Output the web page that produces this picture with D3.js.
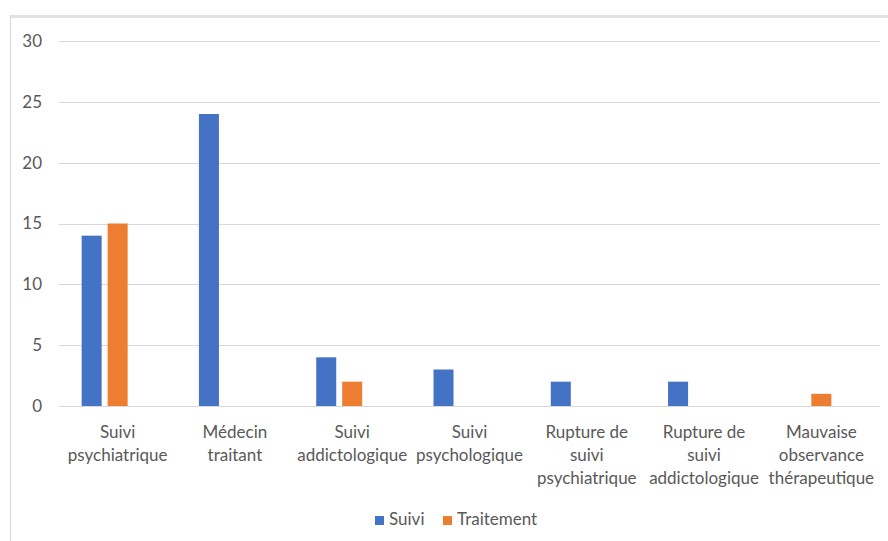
<!DOCTYPE html>
<html>
<head>
<meta charset="utf-8">
<script src="https://cdn.jsdelivr.net/npm/d3@7"></script>
<style>
  body { margin: 0; background: #fff; }
  text { font-family: Lato, "Liberation Sans", sans-serif; fill: #595959; }
</style>
</head>
<body>
<div id="chart"></div>
<script>
// categories and values
var categories = [
    ["Suivi", "psychiatrique"],
    ["Médecin", "traitant"],
    ["Suivi", "addictologique"],
    ["Suivi", "psychologique"],
    ["Rupture de", "suivi", "psychiatrique"],
    ["Rupture de", "suivi", "addictologique"],
    ["Mauvaise", "observance", "thérapeutique"]
];
var seriesNames = ["Suivi", "Traitement"];
var suiviValues = [14, 24, 4, 3, 2, 2, 0];
var traitementValues = [15, 0, 2, 0, 0, 0, 1];
var yTicks = [0, 5, 10, 15, 20, 25, 30];
var colors = ["#4472C4", "#ED7D31"];

var svgWidth = 888;
var svgHeight = 541;
var margin = { top: 41, right: 8, bottom: 135, left: 59 };
var width = svgWidth - margin.left - margin.right;
var height = svgHeight - margin.top - margin.bottom;

var svg = d3.select("#chart")
    .append("svg")
    .attr("width", svgWidth)
    .attr("height", svgHeight);

// chart area border
svg.append("line")
    .attr("x1", 10).attr("x2", svgWidth)
    .attr("y1", 16.5).attr("y2", 16.5)
    .attr("stroke", "#e2e2e2").attr("stroke-width", 3);
svg.append("line")
    .attr("x1", 10.5).attr("x2", 10.5)
    .attr("y1", 15).attr("y2", svgHeight)
    .attr("stroke", "#d9d9d9").attr("stroke-width", 1);

var g = svg.append("g")
    .attr("transform", `translate(${margin.left}, ${margin.top})`);

var data = categories.map(function(c, i) {
    return { label: c, values: [suiviValues[i], traitementValues[i]] };
});

var x0 = d3.scaleBand()
    .domain(d3.range(categories.length))
    .range([0, width])
    .paddingInner(0)
    .paddingOuter(0);

// three slots per category (Excel leaves room for an empty third series)
var groupWidth = 72;
var x1 = d3.scaleBand()
    .domain([0, 1, 2])
    .range([0, groupWidth])
    .paddingInner(0.23);

var y = d3.scaleLinear()
    .domain([0, 30])
    .range([height, 0]);

// gridlines
g.selectAll(".grid")
    .data(yTicks)
    .enter()
    .append("line")
    .attr("x1", 0)
    .attr("x2", width)
    .attr("y1", d => Math.round(y(d)) + 0.5)
    .attr("y2", d => Math.round(y(d)) + 0.5)
    .attr("stroke", "#d9d9d9")
    .attr("stroke-width", 1);

// y axis labels
var leftAxis = d3.axisLeft(y).tickValues(yTicks).tickSize(0).tickPadding(17);
var yAxis = g.append("g").call(leftAxis);
yAxis.select(".domain").remove();
yAxis.selectAll("text")
    .style("font-size", "17px")
    .attr("fill", "#595959");

// bars
var groups = g.selectAll(".cat")
    .data(data)
    .enter()
    .append("g")
    .attr("transform", (d, i) => `translate(${x0(i) + x0.bandwidth() / 2 - groupWidth / 2}, 0)`);

groups.selectAll("rect")
    .data(d => d.values.map((v, k) => ({ k: k, v: v })))
    .enter()
    .append("rect")
    .attr("x", d => x1(d.k))
    .attr("width", x1.bandwidth())
    .attr("y", d => y(d.v))
    .attr("height", d => height - y(d.v))
    .attr("fill", d => colors[d.k]);

// category labels
var catLabels = g.selectAll(".catlabel")
    .data(data)
    .enter()
    .append("text")
    .attr("text-anchor", "middle")
    .attr("transform", (d, i) => `translate(${x0(i) + x0.bandwidth() / 2}, ${height + 32})`)
    .style("font-size", "17px");

catLabels.selectAll("tspan")
    .data(d => d.label)
    .enter()
    .append("tspan")
    .attr("x", 0)
    .attr("y", (d, i) => i * 23)
    .text(d => d);

// legend
var legend = svg.append("g")
    .attr("transform", "translate(375, 525)");
var legendX = [0, 68];
seriesNames.forEach(function(name, i) {
    legend.append("rect")
        .attr("x", legendX[i])
        .attr("y", -9)
        .attr("width", 9)
        .attr("height", 9)
        .attr("fill", colors[i]);
    legend.append("text")
        .attr("x", legendX[i] + 14)
        .attr("y", 0)
        .style("font-size", "17px")
        .text(name);
});
</script>
</body>
</html>
